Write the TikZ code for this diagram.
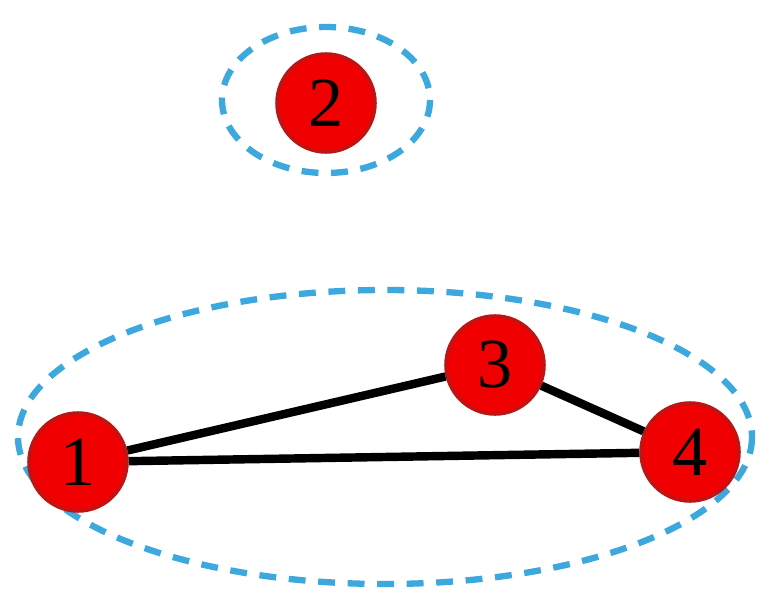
\documentclass[tikz,border=0pt]{standalone}
\usepackage{fontspec}
\setmainfont{Liberation Serif}
\begin{document}
\begin{tikzpicture}[x=0.025cm,y=-0.025cm]
\definecolor{vtx_fill}{RGB}{240,0,0}
\definecolor{vtx_line}{RGB}{190,20,20}
\definecolor{grp_line}{RGB}{60,168,222}
\tikzset{vertex/.style={shape=circle,draw=vtx_line,line width=2.5pt,fill=vtx_fill,minimum size=2.45cm,inner sep=0pt,font=\fontsize{50}{50}\selectfont},
         group/.style={draw=grp_line,line width=4.5pt,dash pattern=on 12pt off 9pt},
         link/.style={line width=6pt}}
\useasboundingbox (0,0) rectangle (783,611);
\draw[group] (326,100) ellipse [x radius=104,y radius=73];
\draw[group] (385,437) ellipse [x radius=367,y radius=147];
\node[vertex] (v1) at (78,462) {1};
\node[vertex] (v2) at (326,103) {2};
\node[vertex] (v3) at (495,365) {3};
\node[vertex] (v4) at (690,452) {4};
\begin{scope}[on background layer/.try]
\end{scope}
\draw[link] (v1) -- (v3);
\draw[link] (v1) -- (v4);
\draw[link] (v3) -- (v4);
\end{tikzpicture}
\end{document}
